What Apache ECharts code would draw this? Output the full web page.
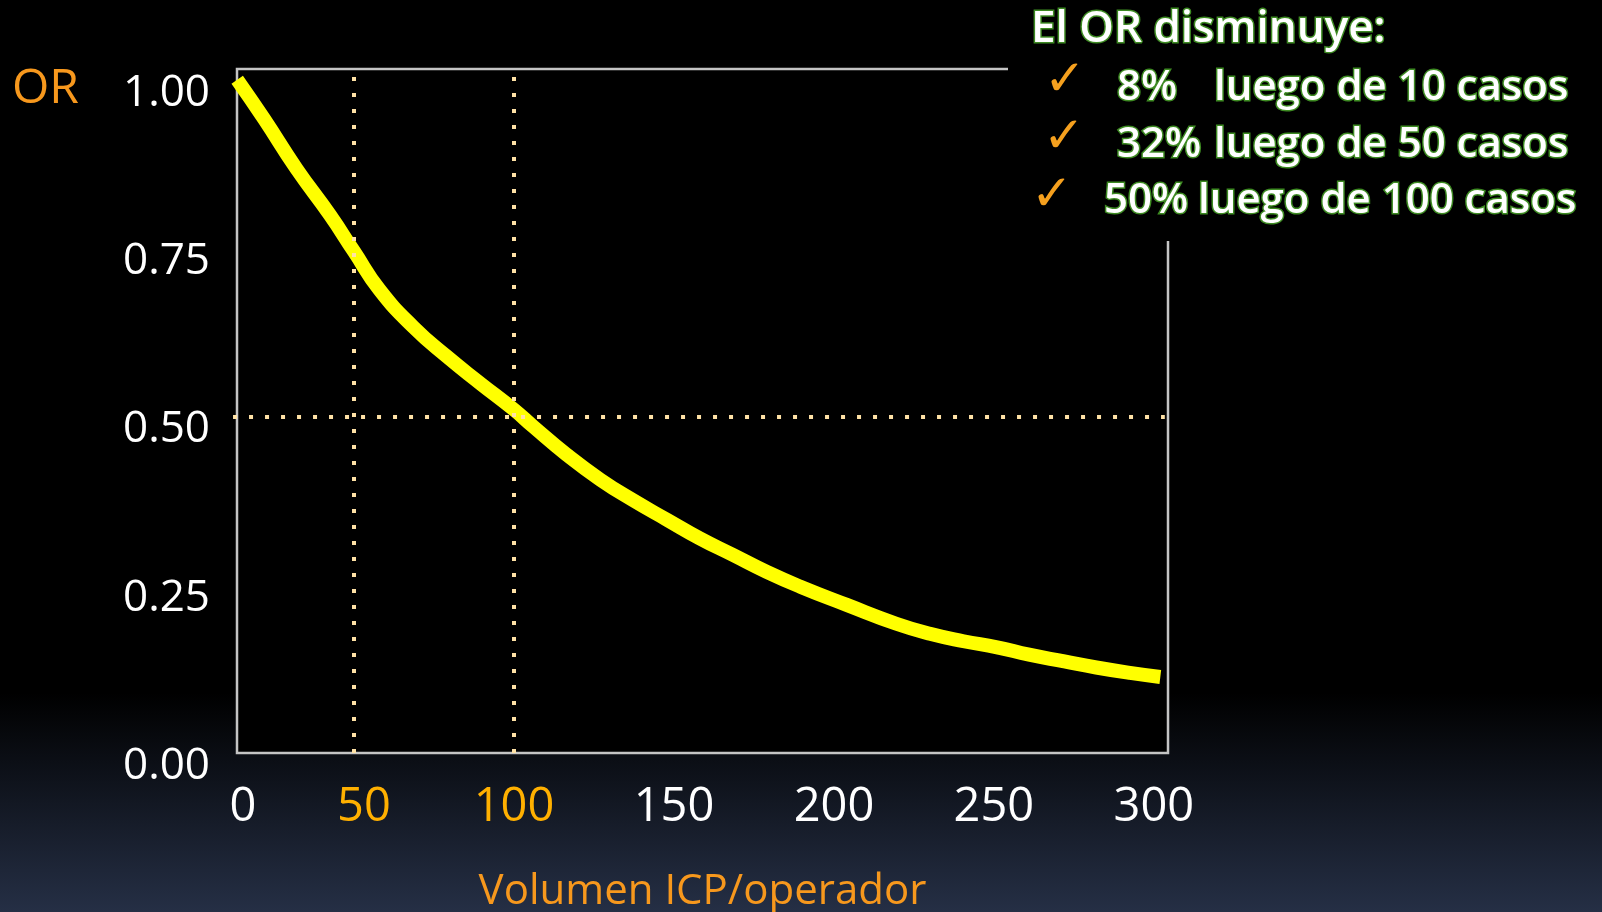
<!DOCTYPE html>
<html>
<head>
<meta charset="utf-8">
<title>OR vs Volumen ICP/operador</title>
<script src="https://cdn.jsdelivr.net/npm/echarts@6/dist/echarts.min.js"></script>
<style>
  html, body { margin: 0; padding: 0; background: #000; }
  #chart { width: 1602px; height: 912px; }
</style>
</head>
<body>
<div id="chart"></div>
<script>
// Volume of PCI procedures per operator (x) and odds ratio of the outcome (y)
const casesX = [13.5, 22, 32, 42.5, 50, 58, 68.5, 79, 89.5, 100, 106, 116.5, 127, 137, 148,
                158, 168.5, 179, 189.5, 204, 219.5, 230, 240.5, 251, 261, 272, 282, 292.5, 302];
const orValues = [1.00, 0.941, 0.868, 0.799, 0.745, 0.688, 0.633, 0.589, 0.549, 0.510, 0.485,
                  0.443, 0.406, 0.376, 0.346, 0.319, 0.294, 0.269, 0.247, 0.220, 0.192, 0.177,
                  0.166, 0.157, 0.146, 0.136, 0.127, 0.119, 0.113];

// Reference guides
const guideCases = [50, 100];
const guideOR = 0.5;
const guideORSpan = [12.2, 303.4];

// Axis ticks
const xTickStep = 50;
const highlightedCases = [50, 100];
const yTickStep = 0.25;

// Summary notes
const noteTitle = 'El OR disminuye:';
const notePercents = ['8%', '32%', '50%'];
const noteTexts = ['luego de 10 casos', 'luego de 50 casos', 'luego de 100 casos'];

const FONT = '"Open Sans", "Noto Sans", sans-serif';
const ORANGE = '#F7981D';
const GOLD = '#FFB000';
const DOT = '#FFE2A6';
const GLOW = '#3d8a22';

const chart = echarts.init(document.getElementById('chart'), null, { renderer: 'canvas' });

const seriesData = casesX.map((x, i) => [x, orValues[i]]);

const notePositions = [
  { check: [1065, 82], pct: 1117, txt: 1214, y: 88 },
  { check: [1064, 139], pct: 1117, txt: 1214, y: 145 },
  { check: [1052, 197], pct: 1104, txt: 1198, y: 201 }
];

const noteFont = '600 42px ' + FONT;
function noteStyle(text, font) {
  return { text: text, font: font, fill: '#fff', stroke: GLOW, lineWidth: 3, strokeFirst: true,
           align: 'left', verticalAlign: 'middle' };
}
const graphics = [
  { type: 'rect', z: 100, shape: { x: 1008, y: 0, width: 594, height: 241 }, style: { fill: '#000' } },
  { type: 'text', z: 101, x: 1031, y: 29, style: noteStyle(noteTitle, '600 44px ' + FONT) }
];
notePositions.forEach((p, i) => {
  graphics.push({ type: 'text', z: 101, x: p.check[0], y: p.check[1],
    style: { text: '\u2713', font: '50px "DejaVu Sans"', fill: '#F5A01E', align: 'center', verticalAlign: 'middle' } });
  graphics.push({ type: 'text', z: 101, x: p.pct, y: p.y, style: noteStyle(notePercents[i], noteFont) });
  graphics.push({ type: 'text', z: 101, x: p.txt, y: p.y, style: noteStyle(noteTexts[i], noteFont) });
});

const option = {
  animation: false,
  backgroundColor: {
    type: 'linear', x: 0, y: 0, x2: 0, y2: 1,
    colorStops: [
      { offset: 0, color: '#000000' },
      { offset: 0.76, color: '#000000' },
      { offset: 1, color: '#252f45' }
    ]
  },
  title: {
    text: 'OR', left: 7, top: 60,
    textStyle: { color: ORANGE, fontFamily: FONT, fontWeight: 'normal', fontSize: 48 }
  },
  grid: [
    // data grid
    { left: 194, right: 434, top: 69, bottom: 159, show: false, outerBoundsMode: 'none' },
    // framed plot box
    { left: 237, right: 434, top: 69, bottom: 159, show: true, outerBoundsMode: 'none',
      backgroundColor: '#000', borderColor: '#c4c4c4', borderWidth: 2.5 }
  ],
  xAxis: [
    {
      gridIndex: 0, type: 'value', min: 0, max: 304.4, interval: xTickStep,
      axisLine: { show: false }, axisTick: { show: false }, splitLine: { show: false },
      axisLabel: {
        margin: 31,
        formatter: function (v) {
          if (v % xTickStep !== 0) return '';
          if (v === 0) return '{z|0}';
          if (v === highlightedCases[0]) return '{f|' + v + '}';
          if (highlightedCases.indexOf(v) >= 0) return '{o|' + v + '}';
          return '{w|' + v + '}';
        },
        rich: {
          w: { color: '#fff', fontSize: 47, fontFamily: FONT },
          o: { color: GOLD, fontSize: 47, fontFamily: FONT },
          z: { color: '#fff', fontSize: 47, fontFamily: FONT, padding: [0, 0, 0, 98] },
          f: { color: GOLD, fontSize: 47, fontFamily: FONT, padding: [0, 0, 0, 20] }
        }
      }
    },
    {
      gridIndex: 1, type: 'value', min: 0, max: 1,
      name: 'Volumen ICP/operador', nameLocation: 'middle', nameGap: 118,
      nameTextStyle: { color: ORANGE, fontSize: 42, fontFamily: FONT },
      axisLine: { show: false }, axisTick: { show: false }, axisLabel: { show: false }, splitLine: { show: false }
    }
  ],
  yAxis: [
    {
      gridIndex: 0, type: 'value', min: 0, max: 1.016,
      axisLine: { show: false }, axisTick: { show: false }, axisLabel: { show: false }, splitLine: { show: false }
    },
    {
      gridIndex: 1, type: 'value', min: 0, max: 1.016, interval: yTickStep,
      axisLine: { show: false }, axisTick: { show: false }, splitLine: { show: false },
      axisLabel: {
        margin: 27,
        formatter: function (v) {
          const k = v / yTickStep;
          return Math.abs(k - Math.round(k)) < 1e-6 ? '{t|' + v.toFixed(2) + '}' : '';
        },
        rich: {
          t: { color: '#fff', fontSize: 44, fontFamily: FONT, padding: [27, 0, 0, 0] }
        }
      }
    }
  ],
  series: [
    {
      type: 'line', xAxisIndex: 0, yAxisIndex: 0,
      data: seriesData, smooth: 0.5, showSymbol: false, symbol: 'none',
      lineStyle: { color: '#FFFF00', width: 14, cap: 'butt' },
      z: 3,
      markLine: {
        silent: true, symbol: ['none', 'none'], label: { show: false },
        lineStyle: { color: DOT, width: 4, type: [4, 12], cap: 'butt' },
        z: 4,
        data: guideCases.map(c => ({ xAxis: c })).concat([
          [{ coord: [guideORSpan[0], guideOR] }, { coord: [guideORSpan[1], guideOR] }]
        ])
      }
    }
  ],
  graphic: graphics
};

chart.setOption(option);
</script>
</body>
</html>
